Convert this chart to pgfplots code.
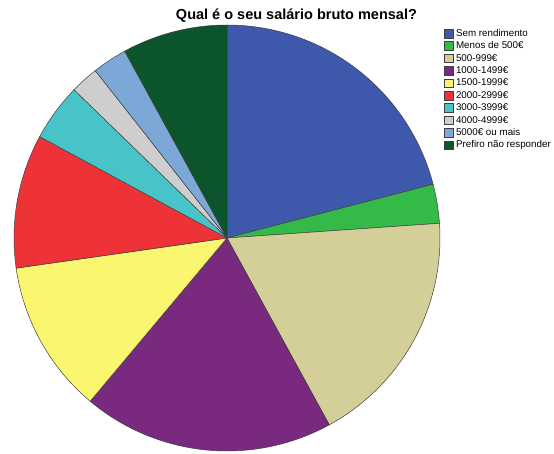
\documentclass[border=0pt]{standalone}
\usepackage{pgfplots}
\usepackage{pgfplotstable}
\pgfplotsset{compat=1.18}
\usepackage{fontspec}
\setmainfont{Liberation Sans}
\definecolor{pie0}{HTML}{3E58AC}
\definecolor{pie1}{HTML}{33BA48}
\definecolor{pie2}{HTML}{D4CE98}
\definecolor{pie3}{HTML}{7A2A7E}
\definecolor{pie4}{HTML}{FAF670}
\definecolor{pie5}{HTML}{EE3338}
\definecolor{pie6}{HTML}{48C4C8}
\definecolor{pie7}{HTML}{CECECE}
\definecolor{pie8}{HTML}{7CA8D8}
\definecolor{pie9}{HTML}{0C542C}
\pgfplotstableread[col sep=comma]{
cat,value
Sem rendimento,20.94
Menos de 500€,2.96
500-999€,18.13
1000-1499€,19.07
1500-1999€,11.64
2000-2999€,10.15
3000-3999€,4.36
4000-4999€,2.14
5000€ ou mais,2.64
Prefiro não responder,7.97
}\piedata
\def\cum{0}%
\pgfplotsforeachungrouped \i in {0,...,9}{%
  \pgfplotstablegetelem{\i}{value}\of\piedata
  \pgfmathsetmacro\newcum{\cum+\pgfplotsretval}%
  \pgfmathsetmacro\dlo{90-3.6*\newcum}%
  \pgfmathsetmacro\dhi{90-3.6*\cum}%
  \expandafter\xdef\csname dlo\i\endcsname{\dlo}%
  \expandafter\xdef\csname dhi\i\endcsname{\dhi}%
  \global\let\cum\newcum
}%
\begin{document}
\begin{tikzpicture}
\useasboundingbox (0,0) rectangle (554bp,454bp);
\begin{axis}[
  at={(227bp,216bp)}, anchor=origin,
  width=426bp, height=426bp, scale only axis,
  xmin=-1, xmax=1, ymin=-1, ymax=1,
  hide axis, clip=false,
  title={Qual é o seu salário bruto mensal?},
  title style={at={(0.663,1.009)}, anchor=center, inner sep=0pt,
    font=\fontsize{14.5bp}{17bp}\selectfont\bfseries},
  legend style={at={(1.009,0.993)}, anchor=north west, draw=none, fill=none,
    inner sep=0pt, row sep=1.7bp,
    font=\fontsize{9.8bp}{12bp}\selectfont,
    nodes={inner ysep=0pt, inner xsep=2.5bp, text height=8.2bp, text depth=2.5bp}},
  legend cell align=left,
  legend image code/.code={\draw[#1] (0bp,-4.3bp) rectangle (9bp,4.3bp);},
  legend entries={Sem rendimento,Menos de 500€,500-999€,1000-1499€,1500-1999€,2000-2999€,3000-3999€,4000-4999€,5000€ ou mais,Prefiro não responder},
]
\pgfplotsinvokeforeach{0,...,9}{%
  \edef\tmp{\noexpand\addplot[fill=pie#1, draw=black!75, line width=0.5bp,
    domain=\csname dlo#1\endcsname:\csname dhi#1\endcsname, samples=120]
    ({cos(x)},{sin(x)}) -- (0,0) -- cycle;}%
  \tmp
}
\end{axis}
\end{tikzpicture}
\end{document}
